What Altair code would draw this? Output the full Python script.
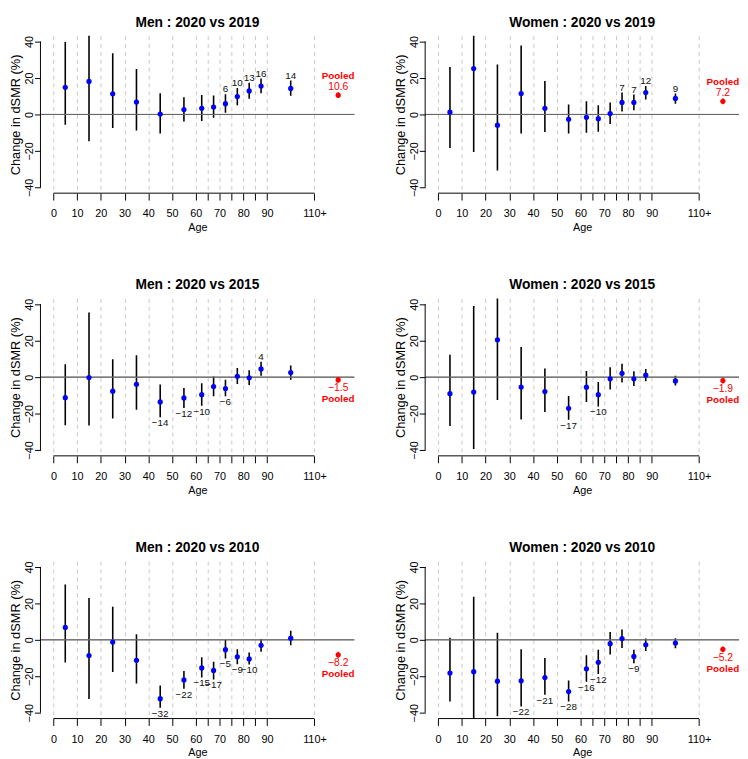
import altair as alt
import pandas as pd

# ---------------- data ----------------
ages = [5, 15, 25, 35, 45, 55, 62.5, 67.5, 72.5, 77.5, 82.5, 87.5, 100]
pooled_x = 120

men19_est = [14.9, 18.1, 11.3, 6.8, 0.2, 2.7, 3.4, 4.1, 5.9, 9.8, 12.9, 15.6, 14.3]
men19_lo = [-5.7, -14.7, -7.5, -8.8, -10.4, -3.8, -3.6, -1.8, 0.9, 5.0, 8.6, 11.6, 10.2]
men19_hi = [39.7, 55.0, 33.6, 24.9, 11.6, 9.5, 10.7, 10.4, 11.1, 14.5, 17.4, 19.7, 18.6]
men19_lab = ["", "", "", "", "", "", "", "", "6", "10", "13", "16", "14"]
men19_pooled = 10.6

wom19_est = [1.25, 25.2, -5.9, 11.5, 3.4, -2.7, -1.6, -2.3, 0.5, 6.6, 6.6, 12.0, 8.8]
wom19_lo = [-18.4, -20.6, -30.8, -10.4, -9.7, -10.4, -10.0, -9.5, -5.2, 1.6, 2.3, 8.2, 5.9]
wom19_hi = [26.0, 58.0, 27.4, 37.9, 18.3, 5.5, 7.2, 5.0, 6.6, 12.0, 10.9, 15.6, 11.5]
wom19_lab = ["", "", "", "", "", "", "", "", "", "7", "7", "12", "9"]
wom19_pooled = 7.2

men15_est = [-11.25, -0.2, -7.7, -3.9, -13.6, -11.4, -9.6, -5.2, -6.25, 0.5, -0.4, 4.5, 2.5]
men15_lo = [-26.4, -26.6, -22.7, -17.9, -22.0, -17.0, -15.7, -10.5, -10.5, -3.75, -4.3, 0.7, -1.4]
men15_hi = [7.1, 35.5, 9.8, 12.0, -4.1, -5.9, -3.4, 0.4, -1.4, 5.0, 3.75, 8.4, 6.4]
men15_lab = ["", "", "", "", "−14", "−12", "−10", "", "−6", "", "", "4", ""]
men15_pooled = -1.5

wom15_est = [-9.1, -8.2, 20.5, -5.4, -7.9, -17.1, -5.5, -9.6, -0.9, 2.1, -0.9, 1.1, -2.1]
wom15_lo = [-26.8, -39.5, -12.5, -23.2, -19.1, -23.4, -13.6, -16.1, -6.8, -2.9, -4.8, -2.3, -4.6]
wom15_hi = [12.3, 39.1, 50.0, 16.6, 4.8, -10.4, 3.4, -2.7, 5.4, 7.3, 3.2, 4.5, 0.7]
wom15_lab = ["", "", "", "", "", "−17", "", "−10", "", "", "", "", ""]
wom15_pooled = -1.9

men10_est = [6.8, -8.6, -1.25, -11.25, -32.3, -22.0, -15.4, -16.8, -5.4, -9.3, -10.5, -3.0, 0.9]
men10_lo = [-12.5, -32.5, -17.7, -23.9, -37.3, -26.8, -20.7, -21.8, -10.2, -13.4, -13.6, -6.6, -3.0]
men10_hi = [30.4, 23.0, 18.2, 3.0, -25.0, -17.1, -9.6, -12.0, 0.0, -5.2, -7.0, 0.5, 5.0]
men10_lab = ["", "", "", "", "−32", "−22", "−15", "−17", "−5", "−9", "−10", "", ""]
men10_pooled = -8.2

wom10_est = [-18.2, -17.5, -22.7, -22.5, -20.7, -28.4, -15.9, -12.3, -2.1, 0.7, -9.1, -2.7, -1.8]
wom10_lo = [-33.9, -60.0, -42.0, -36.6, -30.2, -33.8, -23.0, -18.8, -8.0, -4.5, -12.9, -6.1, -4.6]
wom10_hi = [1.1, 23.6, 3.9, -5.2, -10.0, -22.3, -8.4, -5.5, 4.3, 5.7, -5.5, 0.7, 0.9]
wom10_lab = ["", "", "", "−22", "−21", "−28", "−16", "−12", "", "", "−9", "", ""]
wom10_pooled = -5.2

x_ticks = [0, 10, 20, 30, 40, 50, 60, 65, 70, 75, 80, 85, 90, 110]
y_ticks = [-40, -20, 0, 20, 40]

# ---------------- layout / style ----------------
XDOM = [-5.45, 126.8]
YDOM = [-43.2, 43.2]
W, H = 319, 160
FONT = "Liberation Sans"

XS = alt.Scale(domain=XDOM, nice=False, zero=False)
YS = alt.Scale(domain=YDOM, nice=False, zero=False)
XAXIS = alt.Axis(
    values=x_ticks, title="Age", domain=False, grid=True, gridDash=[4, 4],
    gridColor="#c8c8c8", gridWidth=1, tickSize=7, tickColor="black", tickWidth=1,
    labelExpr="datum.value == 110 ? '110+' : ((datum.value == 65 || datum.value == 75 || datum.value == 85) ? '' : datum.label)",
    labelFont=FONT, labelFontSize=11, labelColor="black", labelPadding=8,
    labelOverlap=False, labelFlush=False,
    titleFont=FONT, titleFontSize=11, titleFontWeight="normal", titleColor="black",
    titlePadding=3,
)
YAXIS = alt.Axis(
    values=y_ticks, title="Change in dSMR (%)", domain=False, grid=False,
    tickSize=6, tickColor="black", tickWidth=1,
    labelAngle=270, labelAlign="center", labelBaseline="bottom",
    labelExpr="datum.value < 0 ? '−' + abs(datum.value) : '' + datum.value",
    labelFont=FONT, labelFontSize=11, labelColor="black", labelPadding=0,
    labelOverlap=False, labelFlush=False,
    titleFont=FONT, titleFontSize=13, titleFontWeight="normal", titleColor="black",
    titleAngle=270, titleAlign="center", titleBaseline="bottom",
    titleX=-18, titleY=H / 2,
)


def fx(field):
    return alt.X(field, type="quantitative", scale=XS, axis=XAXIS, title="Age")


def fy(field):
    return alt.Y(field, type="quantitative", scale=YS, axis=YAXIS, title="Change in dSMR (%)")


def fmt_pooled(v):
    s = f"{v:.1f}"
    return s.replace("-", "−")


def make_panel(title, est, lo, hi, lab, pooled):
    df = pd.DataFrame({"age": ages, "est": est, "lo": lo, "hi": hi, "lab": lab})
    above = df[(df["lab"] != "") & (~df["lab"].str.startswith("−"))]
    below = df[df["lab"].str.startswith("−")]
    pdf = pd.DataFrame({"age": [pooled_x], "est": [pooled], "lo": [pooled - 1.6],
                        "hi": [pooled + 1.6], "txt": [fmt_pooled(pooled)], "p": ["Pooled"]})
    aux = pd.DataFrame({"age": [0, 110], "lo": [-40, 40], "zero": [0, 0]})

    bars = alt.Chart(df).mark_rule(color="black", strokeWidth=1.6, clip=True).encode(
        x=fx("age"), y=fy("lo"), y2="hi:Q",
    )
    pts = alt.Chart(df).mark_circle(color="#0000ff", opacity=1, size=28).encode(
        x=fx("age"), y=fy("est")
    )
    zero = alt.Chart(aux).mark_rule(color="#666666", strokeWidth=1).encode(
        y=fy("zero"), x=alt.value(0), x2=alt.value(W)
    )
    xline = alt.Chart(aux).mark_line(color="black", strokeWidth=1).encode(
        x=fx("age"), y=alt.value(H)
    )
    yline = alt.Chart(aux).mark_line(color="black", strokeWidth=1).encode(
        y=fy("lo"), x=alt.value(0)
    )
    lab_up = alt.Chart(above).mark_text(
        baseline="alphabetic", dy=-2, font=FONT, fontSize=10, color="#111111"
    ).encode(x=fx("age"), y=fy("hi"), text="lab:N")
    lab_dn = alt.Chart(below).mark_text(
        baseline="top", dy=1, font=FONT, fontSize=10, color="#111111"
    ).encode(x=fx("age"), y=fy("lo"), text="lab:N")

    sgn = -1 if pooled >= 0 else 1
    p_bar = alt.Chart(pdf).mark_rule(color="#ff0000", strokeWidth=1.5).encode(
        x=fx("age"), y=fy("lo"), y2="hi:Q"
    )
    p_pt = alt.Chart(pdf).mark_circle(color="#ff0000", opacity=1, size=28).encode(
        x=fx("age"), y=fy("est")
    )
    p_val = alt.Chart(pdf).mark_text(
        baseline="middle", dy=sgn * 8.6, font=FONT, fontSize=10.5, color="#ff0000"
    ).encode(x=fx("age"), y=fy("est"), text="txt:N")
    p_lab = alt.Chart(pdf).mark_text(
        baseline="middle", dy=sgn * 19.8, font=FONT, fontSize=10, fontWeight="bold",
        color="#ff0000"
    ).encode(x=fx("age"), y=fy("est"), text="p:N")

    return alt.layer(
        bars, zero, xline, yline, pts, lab_up, lab_dn, p_bar, p_pt, p_val, p_lab
    ).properties(
        width=W, height=H,
        title=alt.TitleParams(title, font=FONT, fontSize=14, fontWeight="bold",
                              color="black", anchor="middle", frame="group", offset=6),
    )


panels = [
    make_panel("Men : 2020 vs 2019", men19_est, men19_lo, men19_hi, men19_lab, men19_pooled),
    make_panel("Women : 2020 vs 2019", wom19_est, wom19_lo, wom19_hi, wom19_lab, wom19_pooled),
    make_panel("Men : 2020 vs 2015", men15_est, men15_lo, men15_hi, men15_lab, men15_pooled),
    make_panel("Women : 2020 vs 2015", wom15_est, wom15_lo, wom15_hi, wom15_lab, wom15_pooled),
    make_panel("Men : 2020 vs 2010", men10_est, men10_lo, men10_hi, men10_lab, men10_pooled),
    make_panel("Women : 2020 vs 2010", wom10_est, wom10_lo, wom10_hi, wom10_lab, wom10_pooled),
]

chart = alt.concat(*panels, columns=2, spacing={"row": 46, "column": 39}).properties(
    padding={"top": 1, "left": 1, "right": 0, "bottom": 0}, background="white"
).configure_view(stroke=None).configure_axis(labelOverlap=False)

chart.save("out.html", embed_options={"renderer": "svg", "actions": False})
